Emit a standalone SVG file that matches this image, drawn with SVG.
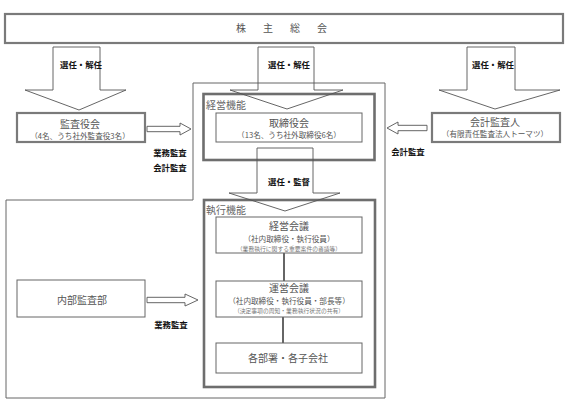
<svg xmlns="http://www.w3.org/2000/svg" width="567" height="405" viewBox="0 0 567 405">
<style>
.bg{fill:#fff}
.thick{fill:#fff;stroke:#7a7a7a;stroke-width:2.2}
.thin{fill:#fff;stroke:#666;stroke-width:1}
.frame{fill:none;stroke:#666;stroke-width:1}
.func{fill:none;stroke:#6e6e6e;stroke-width:2.6}
.big{fill:none;stroke:#555;stroke-width:0.9}
.small{fill:#fff;stroke:#555;stroke-width:0.9}
.conn{stroke:#666;stroke-width:2;fill:none}
text{font-family:"Noto Sans CJK JP","Noto Sans",sans-serif}
.t{fill:#555;font-size:10px;text-anchor:middle}
.s{fill:#555;font-size:7.6px;text-anchor:middle}
.xs{fill:#777;font-size:5.8px;text-anchor:middle}
.lab{fill:#111;font-size:8.4px;font-weight:bold;text-anchor:middle}
.fl{fill:#666;font-size:10px}
</style>
<rect class="bg" x="0" y="0" width="567" height="405"/>

<g id="shareholders">
<rect class="thick" x="5" y="14" width="558" height="29"/>
<text class="t" x="290" y="32" letter-spacing="17">株主総会</text>
</g>

<g id="frame">
<path class="frame" d="M193,83 H385 V398 H6 V200 H193 Z"/>
</g>

<g id="management-function">
<rect class="func" x="203.5" y="94" width="171" height="66"/>
<text class="fl" x="206" y="108.5">経営機能</text>
</g>

<g id="board">
<rect class="thin" x="216" y="113" width="146" height="29"/>
<text class="t" x="289" y="127">取締役会</text>
<text class="s" x="289" y="138">（13名、うち社外取締役6名）</text>
</g>

<g id="execution-function">
<rect class="func" x="204" y="200" width="171" height="187"/>
<text class="fl" x="206" y="214">執行機能</text>
</g>

<g id="auditors">
<rect class="thick" x="17" y="113" width="128" height="29"/>
<text class="t" x="80" y="127.5">監査役会</text>
<text class="s" x="80" y="138.5">（4名、うち社外監査役3名）</text>
</g>

<g id="accounting-auditor">
<rect class="thick" x="432" y="113" width="128" height="29"/>
<text class="t" x="495" y="125.5">会計監査人</text>
<text class="s" x="495" y="136.5">（有限責任監査法人トーマツ）</text>
</g>

<g id="mgmt-meeting">
<rect class="thin" x="216" y="217" width="146" height="36"/>
<text class="t" x="289" y="230">経営会議</text>
<text class="s" x="289" y="242">（社内取締役・執行役員）</text>
<text class="xs" x="289" y="250.5">（業務執行に関する重要案件の審議等）</text>
</g>

<g id="ops-meeting">
<rect class="thin" x="216" y="281" width="146" height="36"/>
<text class="t" x="289" y="292">運営会議</text>
<text class="s" x="289" y="303.5">（社内取締役・執行役員・部長等）</text>
<text class="xs" x="289" y="312.5">（決定事項の周知・業務執行状況の共有）</text>
</g>

<g id="departments">
<rect class="thin" x="216" y="343" width="146" height="30"/>
<text class="t" x="288" y="361.5">各部署・各子会社</text>
</g>

<g id="internal-audit">
<rect class="thin" x="17" y="280" width="128" height="37"/>
<text class="t" x="82" y="304">内部監査部</text>
</g>

<g id="connectors">
<polygon class="big" points="53,47 100,47 100,90 126,90 79,110 25,90 53,90"/>
<text class="lab" x="81" y="68">選任・解任</text>
<polygon class="big" points="258,47 314,47 314,90 343,90 287,109 230,90 258,90"/>
<text class="lab" x="289" y="68">選任・解任</text>
<polygon class="big" points="467,47 515,47 515,90 560,90 495,109 439,90 467,90"/>
<text class="lab" x="493" y="68">選任・解任</text>
<polygon class="big" points="257,148 313,148 313,193 340,193 285,211 229,193 257,193"/>
<text class="lab" x="289" y="185">選任・監督</text>

<polygon class="small" points="147,126.3 180,126.3 180,123 191,129 180,135 180,131.7 147,131.7"/>
<text class="lab" x="170" y="156">業務監査</text>
<text class="lab" x="170" y="171">会計監査</text>

<polygon class="small" points="427,125.3 398,125.3 398,122 387,128 398,134 398,130.7 427,130.7"/>
<text class="lab" x="408" y="155">会計監査</text>

<polygon class="small" points="147,297.3 185,297.3 185,294 198,300 185,306 185,302.7 147,302.7"/>
<text class="lab" x="171" y="328">業務監査</text>

<line class="conn" x1="284" y1="253" x2="284" y2="281"/>
<line class="conn" x1="283" y1="317" x2="283" y2="343"/>
</g>
</svg>
